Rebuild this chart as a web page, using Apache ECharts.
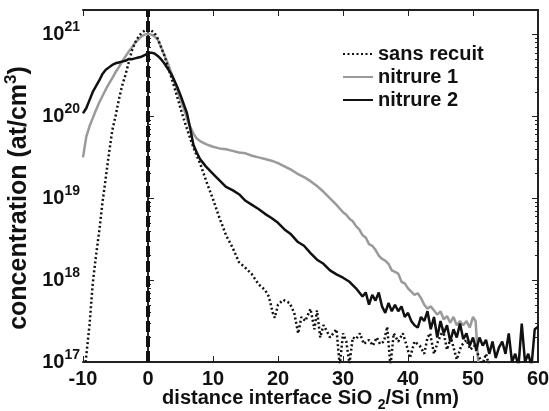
<!DOCTYPE html>
<html>
<head>
    <meta charset="utf-8">
    <title>Profils de concentration</title>
    <script src="https://cdn.jsdelivr.net/npm/echarts@6/dist/echarts.min.js"></script>
</head>
<body style="margin:0">
    <div id="main" style="width: 549px;height:411px;"></div>
    <script>
        // profils : x en nm, valeurs en log10(at/cm3)
        var xSans = [-9.6, -9, -8.5, -8, -7.5, -7, -6.5, -6, -5.5, -5, -4.5, -4, -3.5, -3, -2.5, -2, -1.5, -1, -0.5, 0,
            0.5, 1, 1.5, 2, 2.5, 3, 3.5, 4, 4.5, 5, 5.5, 6, 6.5, 7, 7.5, 8, 9, 10, 11, 12, 13, 14, 15, 16, 17, 18,
            18.6, 19.2, 19.5, 20, 20.8, 21.8, 22.5, 23.1, 23.6, 24.2, 25, 25.6, 26, 26.5, 27, 27.5, 28, 28.5, 29, 29.5,
            30, 30.5, 31, 31.5, 32, 32.6, 33.2, 34, 34.6, 35.2, 35.7, 36.3, 36.8, 37.3, 37.8, 38.5, 39.2, 39.8, 40.3,
            41, 41.8, 42.5, 43, 43.4, 44, 44.6, 45.4, 46, 46.6, 47.5, 48.2, 49, 49.6, 50.2, 51, 51.5, 52, 52.5];
        var logSans = [17.0, 17.45, 17.96, 18.3, 18.6, 18.95, 19.25, 19.55, 19.83, 20.0, 20.2, 20.37, 20.5, 20.65, 20.8, 20.9, 20.97, 21.02, 21.05, 21.06,
            21.05, 21.02, 20.95, 20.85, 20.75, 20.62, 20.5, 20.37, 20.24, 20.1, 19.97, 19.85, 19.73, 19.62, 19.52, 19.43, 19.2, 18.99, 18.76, 18.55, 18.4, 18.22, 18.15, 18.07, 17.95, 17.88,
            17.8, 17.6, 17.54, 17.7, 17.76, 17.72, 17.6, 17.35, 17.55, 17.5, 17.65, 17.4, 17.63, 17.3, 17.45, 17.38, 17.3, 17.35, 17.4, 16.95,
            17.35, 17.25, 16.98, 17.3, 17.28, 17.35, 17.22, 17.27, 17.2, 17.3, 17.22, 17.25, 17.43, 16.95, 17.35, 17.25, 17.35, 17.2, 17.05,
            17.25, 17.2, 17.1, 17.3, 17.35, 17.1, 17.25, 17.39, 17.15, 17.3, 17.03, 17.2, 17.27, 17.15, 17.2, 17.05, 16.98, 17.1, 16.95];

        var xNit1 = [-10, -9.5, -9, -8.5, -8, -7.5, -7, -6.5, -6, -5.5, -5, -4.5, -4, -3.5, -3, -2.5, -2, -1.5, -1, -0.5, 0,
            0.5, 1, 1.5, 2, 2.5, 3, 3.5, 4, 4.5, 5, 5.5, 6, 6.5, 7, 7.5, 8, 9, 10, 11, 12, 13, 14, 15, 16, 17, 18, 19, 20,
            21, 22, 23, 24, 25, 26, 27, 28, 29, 30, 30.5, 31, 31.5, 32, 32.5, 33, 33.5, 34, 34.5, 35, 35.5, 36, 36.5, 37, 37.5, 38, 38.5, 39, 39.5, 40,
            40.5, 41, 41.5, 42, 42.5, 43, 43.5, 44, 44.5, 45, 45.5, 46, 46.5, 47, 47.5, 48, 48.5, 49, 49.5, 50, 50.4, 50.8];
        var logNit1 = [19.5, 19.75, 19.88, 19.98, 20.08, 20.17, 20.25, 20.33, 20.4, 20.47, 20.54, 20.6, 20.67, 20.73, 20.79, 20.84, 20.9, 20.94, 20.98, 21.0, 21.01,
            21.0, 20.98, 20.94, 20.85, 20.75, 20.66, 20.55, 20.43, 20.33, 20.2, 20.1, 19.97, 19.87, 19.79, 19.73, 19.7, 19.66, 19.63, 19.61, 19.6, 19.58, 19.56, 19.55, 19.52, 19.5, 19.48, 19.46, 19.43,
            19.39, 19.35, 19.3, 19.26, 19.21, 19.15, 19.08, 19.0, 18.92, 18.83, 18.8, 18.75, 18.72, 18.66, 18.62, 18.55, 18.52, 18.44, 18.42, 18.37, 18.3, 18.26, 18.24, 18.2, 18.12, 18.1, 18.08, 17.98, 17.96, 17.9,
            17.86, 17.82, 17.84, 17.78, 17.7, 17.65, 17.68, 17.63, 17.58, 17.62, 17.52, 17.56, 17.48, 17.55, 17.45, 17.5, 17.45, 17.5, 17.42, 17.55, 17.5, 17.0, 16.8];

        var xNit2 = [-10, -9.5, -9, -8.5, -8, -7.5, -7, -6.5, -6, -5.5, -5, -4.5, -4, -3.5, -3, -2.5, -2, -1.5, -1, -0.5, 0,
            0.5, 1, 1.5, 2, 2.5, 3, 3.5, 4, 4.5, 5, 5.5, 6, 6.5, 7, 7.5, 8, 8.5, 9, 10, 11, 12, 13, 14, 15, 16, 17, 18, 19, 20,
            21, 22, 23, 24, 25, 26, 27, 28, 29, 30, 31, 32, 33, 33.5, 34, 34.5, 35, 35.5, 36, 36.5, 37, 37.5, 38, 38.5, 39, 39.5, 40,
            40.5, 41, 41.5, 42, 42.5, 43, 43.5, 44, 44.5, 45, 45.5, 46, 46.5, 47, 47.5, 48, 48.5, 49, 49.5, 50,
            50.5, 51, 51.5, 52, 52.5, 53, 53.5, 54, 54.5, 55, 55.5, 56, 56.5, 57, 57.5, 58, 58.5, 59, 59.5, 60];
        var logNit2 = [20.04, 20.1, 20.2, 20.3, 20.37, 20.44, 20.52, 20.57, 20.6, 20.63, 20.65, 20.66, 20.67, 20.68, 20.7, 20.7, 20.71, 20.72, 20.73, 20.75, 20.77,
            20.78, 20.77, 20.74, 20.7, 20.65, 20.59, 20.53, 20.45, 20.36, 20.26, 20.15, 20.04, 19.85, 19.65, 19.56, 19.48, 19.43, 19.38, 19.3, 19.22, 19.14, 19.1, 19.05, 18.97, 18.92, 18.87, 18.81, 18.76, 18.7,
            18.62, 18.56, 18.47, 18.42, 18.33, 18.25, 18.2, 18.12, 18.07, 18.03, 17.98, 17.9, 17.8, 17.85, 17.7, 17.82, 17.75, 17.85, 17.68, 17.6, 17.72, 17.62, 17.7, 17.62, 17.68, 17.55, 17.6,
            17.5, 17.45, 17.42, 17.55, 17.5, 17.62, 17.4, 17.55, 17.3, 17.5, 17.35, 17.45, 17.25, 17.4, 17.3, 17.47, 17.28, 17.35, 17.2, 17.3,
            17.15, 17.3, 17.2, 17.27, 17.1, 17.25, 17.05, 17.18, 17.25, 17.1, 17.35, 17.0, 17.1, 16.95, 17.47, 17.0, 17.1, 16.95, 17.4, 17.43];

        var xTicks = [-10, 0, 10, 20, 30, 40, 50, 60];
        var yTicks = [1e17, 1e18, 1e19, 1e20, 1e21];
        var legendNames = ['sans recuit', 'nitrure 1', 'nitrure 2'];

        // graduations secondaires 2..9 de chaque décade
        var yMinor = [];
        for (var d = 17; d <= 20; d++) {
            for (var m = 2; m <= 9; m++) yMinor.push(m * Math.pow(10, d));
        }

        function pairs(xs, ls) {
            return xs.map(function (x, i) { return [x, Math.pow(10, ls[i])]; });
        }

        var fontBold = { fontFamily: 'Liberation Sans', fontWeight: 'bold', color: '#111' };

        var myChart = echarts.init(document.getElementById('main'));

        function yAxisBase(pos, extra) {
            return Object.assign({
                type: 'log', logBase: 10, min: 1e17, max: 2e21, position: pos,
                axisLine: { show: true, lineStyle: { color: '#222', width: 2 } },
                splitLine: { show: false }, axisLabel: { show: false },
                axisTick: { inside: true, length: 6, lineStyle: { color: '#222', width: 1 }, customValues: yTicks }
            }, extra || {});
        }
        function xAxisBase(pos, extra) {
            return Object.assign({
                type: 'value', min: -10, max: 60, interval: 10, position: pos,
                axisLine: { show: true, onZero: false, lineStyle: { color: '#222', width: 2 } },
                splitLine: { show: false }, axisLabel: { show: false },
                axisTick: { inside: true, length: 6, lineStyle: { color: '#222', width: 1 } }
            }, extra || {});
        }

        option = {
            animation: false,
            grid: { left: 83, top: 10, right: 11, bottom: 49, outerBoundsMode: 'none', containLabel: false },
            legend: {
                orient: 'vertical', left: 337, top: 39, itemWidth: 30, itemHeight: 14, itemGap: 3,
                data: legendNames,
                itemStyle: { opacity: 0 },
                textStyle: Object.assign({ fontSize: 20 }, fontBold)
            },
            xAxis: [
                xAxisBase('bottom', {
                    axisLabel: Object.assign({ show: true, fontSize: 20, margin: 7,
                        customValues: xTicks }, fontBold),
                    name: 'distance interface SiO {sub|2}/Si (nm)',
                    nameLocation: 'middle', nameGap: 22, nameMoveOverlap: false,
                    nameTextStyle: Object.assign({ fontSize: 20, rich: {
                        sub: Object.assign({ fontSize: 14, padding: [14, 0, 0, 0] }, fontBold)
                    } }, fontBold)
                }),
                xAxisBase('top')
            ],
            yAxis: [
                yAxisBase('left', {
                    axisLabel: {
                        show: true, margin: 3, customValues: yTicks,
                        formatter: function (v) {
                            return '{b|10}{s|' + Math.round(Math.log10(v)) + '}';
                        },
                        rich: {
                            b: Object.assign({ fontSize: 20 }, fontBold),
                            s: Object.assign({ fontSize: 14, padding: [0, 0, 14, 0] }, fontBold)
                        }
                    },
                    name: 'concentration (at/cm{s|3})',
                    nameLocation: 'middle', nameRotate: 90, nameGap: 47, nameMoveOverlap: false,
                    nameTextStyle: Object.assign({ fontSize: 25, padding: [0, 24, 0, 0], rich: {
                        s: Object.assign({ fontSize: 17, padding: [0, 0, 16, 0] }, fontBold)
                    } }, fontBold)
                }),
                yAxisBase('left', { axisLine: { show: false }, axisTick: { inside: true, length: 3, lineStyle: { color: '#222' }, customValues: yMinor } }),
                yAxisBase('right'),
                yAxisBase('right', { axisLine: { show: false }, axisTick: { inside: true, length: 3, lineStyle: { color: '#222' }, customValues: yMinor } })
            ],
            series: [
                {
                    name: legendNames[0], type: 'line', showSymbol: false, symbol: 'none', z: 4,
                    lineStyle: { color: '#111', width: 2.5, type: [2, 2.5] },
                    itemStyle: { color: '#111' },
                    data: pairs(xSans, logSans),
                    markLine: {
                        silent: true, symbol: 'none', label: { show: false },
                        lineStyle: { color: '#111', width: 4, type: [11, 4] },
                        data: [{ xAxis: 0 }]
                    }
                },
                {
                    name: legendNames[1], type: 'line', showSymbol: false, symbol: 'none', z: 2,
                    lineStyle: { color: '#9a9a9a', width: 2.5 },
                    itemStyle: { color: '#9a9a9a' },
                    data: pairs(xNit1, logNit1)
                },
                {
                    name: legendNames[2], type: 'line', showSymbol: false, symbol: 'none', z: 3,
                    lineStyle: { color: '#111', width: 2.5 },
                    itemStyle: { color: '#111' },
                    data: pairs(xNit2, logNit2)
                }
            ]
        };

        myChart.setOption(option);
    </script>
</body>
</html>
